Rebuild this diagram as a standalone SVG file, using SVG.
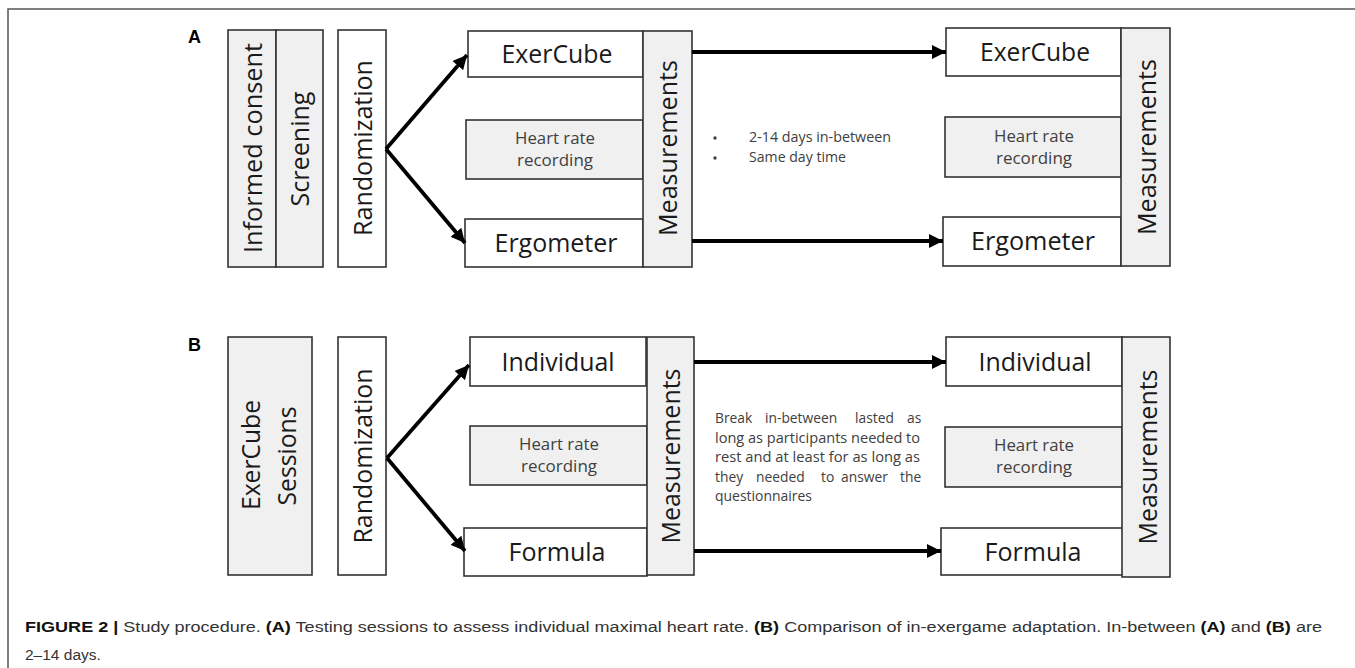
<svg xmlns="http://www.w3.org/2000/svg" width="1355" height="668" viewBox="0 0 1355 668">
<style>
  .box{fill:#ffffff;stroke:#333333;stroke-width:1.6}
  .gbox{fill:#f0f0f0;stroke:#333333;stroke-width:1.6}
  .lbl{font-family:'Open Sans','Noto Sans',sans-serif;font-size:26px;fill:#1a1a1a}
  .hlbl{font-family:'Open Sans','Noto Sans',sans-serif;font-size:25px;fill:#1a1a1a;text-anchor:middle}
  .hr{font-family:'Open Sans','Noto Sans',sans-serif;font-size:17px;fill:#404040;text-anchor:middle}
  .note{font-family:'Open Sans','Noto Sans',sans-serif;font-size:13.8px;fill:#404040}
  .panel{font-family:'Liberation Sans',Arial,sans-serif;font-size:18px;font-weight:bold;fill:#000}
  .cap{font-family:'Liberation Sans',Arial,sans-serif;font-size:15.5px;fill:#333333}
  .capb{font-weight:bold;fill:#111111}
  .arr{stroke:#000;stroke-width:3.8;fill:none}
</style>
<defs>
  <marker id="ah" markerUnits="userSpaceOnUse" markerWidth="16" markerHeight="14" refX="14" refY="7" orient="auto">
    <path d="M0,0 L14,7 L0,14 Z" fill="#000"/>
  </marker>
</defs>
<rect x="0" y="0" width="1355" height="668" fill="#ffffff"/>
<g id="frame">
  <path d="M8,668 L8,9 L1355,9" fill="none" stroke="#555555" stroke-width="1.5"/>
</g>

<g id="panel-labels">
  <text class="panel" x="188" y="43">A</text>
  <text class="panel" x="188" y="351">B</text>
</g>

<!-- Panel A -->
<g id="a-informed-consent">
  <rect class="gbox" x="228" y="30" width="48" height="237"/>
  <text class="lbl" text-anchor="middle" transform="translate(262,148) rotate(-90)" textLength="210" lengthAdjust="spacingAndGlyphs">Informed consent</text>
</g>
<g id="a-screening">
  <rect class="gbox" x="276" y="30" width="47" height="237"/>
  <text class="lbl" text-anchor="middle" transform="translate(309,149) rotate(-90)" textLength="115" lengthAdjust="spacingAndGlyphs">Screening</text>
</g>
<g id="a-randomization">
  <rect class="box" x="338" y="30" width="48" height="237"/>
  <text class="lbl" text-anchor="middle" transform="translate(372,148) rotate(-90)" textLength="176" lengthAdjust="spacingAndGlyphs">Randomization</text>
</g>
<g id="a-exercube">
  <rect class="box" x="468" y="31" width="175" height="46"/>
  <text class="hlbl" x="557" y="63" textLength="111" lengthAdjust="spacingAndGlyphs">ExerCube</text>
</g>
<g id="a-heartrate">
  <rect class="gbox" x="466" y="120" width="177" height="59"/>
  <text class="hr" x="555" y="144" textLength="80" lengthAdjust="spacingAndGlyphs">Heart rate</text>
  <text class="hr" x="555" y="166" textLength="76" lengthAdjust="spacingAndGlyphs">recording</text>
</g>
<g id="a-ergometer">
  <rect class="box" x="465" y="219" width="178" height="48"/>
  <text class="hlbl" x="556" y="252" textLength="123" lengthAdjust="spacingAndGlyphs">Ergometer</text>
</g>
<g id="a-measurements">
  <rect class="gbox" x="643" y="31" width="49" height="236"/>
  <text class="lbl" text-anchor="middle" transform="translate(677,148) rotate(-90)" textLength="176" lengthAdjust="spacingAndGlyphs">Measurements</text>
</g>
<g id="a-note">
  <circle cx="715" cy="138" r="1.7" fill="#404040"/>
  <circle cx="715" cy="158" r="1.7" fill="#404040"/>
  <text class="note" x="749" y="142" textLength="142" lengthAdjust="spacingAndGlyphs">2-14 days in-between</text>
  <text class="note" x="749" y="162" textLength="97" lengthAdjust="spacingAndGlyphs">Same day time</text>
</g>
<g id="a-exercube2">
  <rect class="box" x="946" y="28" width="175" height="48"/>
  <text class="hlbl" x="1035" y="61" textLength="110" lengthAdjust="spacingAndGlyphs">ExerCube</text>
</g>
<g id="a-heartrate2">
  <rect class="gbox" x="945" y="117" width="176" height="60"/>
  <text class="hr" x="1034" y="142" textLength="80" lengthAdjust="spacingAndGlyphs">Heart rate</text>
  <text class="hr" x="1034" y="164" textLength="76" lengthAdjust="spacingAndGlyphs">recording</text>
</g>
<g id="a-ergometer2">
  <rect class="box" x="943" y="217" width="178" height="49"/>
  <text class="hlbl" x="1033" y="250" textLength="124" lengthAdjust="spacingAndGlyphs">Ergometer</text>
</g>
<g id="a-measurements2">
  <rect class="gbox" x="1121" y="28" width="49" height="238"/>
  <text class="lbl" text-anchor="middle" transform="translate(1156,147) rotate(-90)" textLength="176" lengthAdjust="spacingAndGlyphs">Measurements</text>
</g>

<!-- Panel B -->
<g id="b-exercube-sessions">
  <rect class="gbox" x="228" y="337" width="84" height="238"/>
  <text class="lbl" text-anchor="middle" transform="translate(260,455) rotate(-90)" textLength="110" lengthAdjust="spacingAndGlyphs">ExerCube</text>
  <text class="lbl" text-anchor="middle" transform="translate(296,456) rotate(-90)" textLength="99" lengthAdjust="spacingAndGlyphs">Sessions</text>
</g>
<g id="b-randomization">
  <rect class="box" x="338" y="337" width="48" height="238"/>
  <text class="lbl" text-anchor="middle" transform="translate(372,456) rotate(-90)" textLength="175" lengthAdjust="spacingAndGlyphs">Randomization</text>
</g>
<g id="b-individual">
  <rect class="box" x="470" y="337" width="176" height="49"/>
  <text class="hlbl" x="558" y="371" textLength="113" lengthAdjust="spacingAndGlyphs">Individual</text>
</g>
<g id="b-heartrate">
  <rect class="gbox" x="470" y="426" width="177" height="59"/>
  <text class="hr" x="559" y="450" textLength="80" lengthAdjust="spacingAndGlyphs">Heart rate</text>
  <text class="hr" x="559" y="472" textLength="76" lengthAdjust="spacingAndGlyphs">recording</text>
</g>
<g id="b-formula">
  <rect class="box" x="464" y="528" width="183" height="48"/>
  <text class="hlbl" x="557" y="561" textLength="97" lengthAdjust="spacingAndGlyphs">Formula</text>
</g>
<g id="b-measurements">
  <rect class="gbox" x="647" y="337" width="47" height="238"/>
  <text class="lbl" text-anchor="middle" transform="translate(680,456) rotate(-90)" textLength="175" lengthAdjust="spacingAndGlyphs">Measurements</text>
</g>
<g id="b-note">
  <text class="note" y="423"><tspan x="715">Break</tspan><tspan x="765">in-between</tspan><tspan x="855">lasted</tspan><tspan x="907">as</tspan></text>
  <text class="note" x="715" y="443" textLength="205" lengthAdjust="spacingAndGlyphs">long as participants needed to</text>
  <text class="note" x="715" y="462" textLength="205" lengthAdjust="spacingAndGlyphs">rest and at least for as long as</text>
  <text class="note" y="482"><tspan x="715">they</tspan><tspan x="756">needed</tspan><tspan x="821">to</tspan><tspan x="841">answer</tspan><tspan x="900">the</tspan></text>
  <text class="note" x="715" y="501" textLength="97" lengthAdjust="spacingAndGlyphs">questionnaires</text>
</g>
<g id="b-individual2">
  <rect class="box" x="946" y="337" width="176" height="49"/>
  <text class="hlbl" x="1035" y="371" textLength="113" lengthAdjust="spacingAndGlyphs">Individual</text>
</g>
<g id="b-heartrate2">
  <rect class="gbox" x="945" y="427" width="177" height="60"/>
  <text class="hr" x="1034" y="451" textLength="80" lengthAdjust="spacingAndGlyphs">Heart rate</text>
  <text class="hr" x="1034" y="473" textLength="76" lengthAdjust="spacingAndGlyphs">recording</text>
</g>
<g id="b-formula2">
  <rect class="box" x="941" y="528" width="182" height="47"/>
  <text class="hlbl" x="1033" y="561" textLength="97" lengthAdjust="spacingAndGlyphs">Formula</text>
</g>
<g id="b-measurements2">
  <rect class="gbox" x="1122" y="337" width="48" height="240"/>
  <text class="lbl" text-anchor="middle" transform="translate(1157,457) rotate(-90)" textLength="175" lengthAdjust="spacingAndGlyphs">Measurements</text>
</g>

<g id="connectors">
  <line class="arr" x1="386" y1="149" x2="467" y2="55" marker-end="url(#ah)"/>
  <line class="arr" x1="386" y1="149" x2="465" y2="243" marker-end="url(#ah)"/>
  <line class="arr" x1="692" y1="52" x2="946" y2="52" marker-end="url(#ah)"/>
  <line class="arr" x1="692" y1="241" x2="943" y2="241" marker-end="url(#ah)"/>
  <line class="arr" x1="387" y1="458" x2="469" y2="365" marker-end="url(#ah)"/>
  <line class="arr" x1="387" y1="458" x2="465" y2="551" marker-end="url(#ah)"/>
  <line class="arr" x1="694" y1="362" x2="946" y2="362" marker-end="url(#ah)"/>
  <line class="arr" x1="694" y1="551" x2="941" y2="551" marker-end="url(#ah)"/>
</g>

<g id="caption">
  <text class="cap" x="25" y="632" textLength="1297" lengthAdjust="spacingAndGlyphs"><tspan class="capb">FIGURE 2 | </tspan>Study procedure. <tspan class="capb">(A)</tspan> Testing sessions to assess individual maximal heart rate. <tspan class="capb">(B)</tspan> Comparison of in-exergame adaptation. In-between <tspan class="capb">(A)</tspan> and <tspan class="capb">(B)</tspan> are</text>
  <text class="cap" x="25" y="660">2–14 days.</text>
</g>
</svg>
